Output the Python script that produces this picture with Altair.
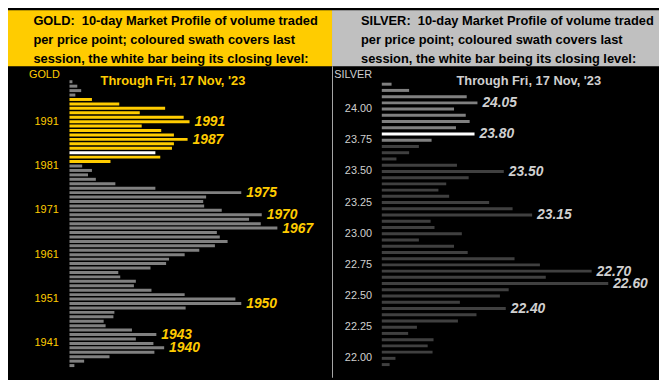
import altair as alt
import pandas as pd

# ---------------- data ----------------
gold_prices = [2000, 1999, 1998, 1997, 1996, 1995, 1994, 1993, 1992, 1991,
               1990, 1989, 1988, 1987, 1986, 1985, 1984, 1983, 1982, 1981,
               1980, 1979, 1978, 1977, 1976, 1975, 1974, 1973, 1972, 1971,
               1970, 1969, 1968, 1967, 1966, 1965, 1964, 1963, 1962, 1961,
               1960, 1959, 1958, 1957, 1956, 1955, 1954, 1953, 1952, 1951,
               1950, 1949, 1948, 1947, 1946, 1945, 1944, 1943, 1942, 1941,
               1940, 1939, 1938, 1937, 1936]
gold_volume = [3, 8, 12, 6, 23, 51, 98, 72, 117, 123,
               74, 94, 107, 121, 107, 105, 88, 93, 42, 13,
               23, 19, 27, 47, 88, 176, 140, 137, 138, 156,
               197, 184, 196, 213, 151, 154, 162, 149, 133, 118,
               102, 99, 83, 50, 52, 68, 66, 84, 118, 170,
               176, 119, 46, 45, 35, 37, 64, 89, 68, 86,
               97, 87, 41, 15, 5]
gold_session = [1982, 1996]
gold_close = 1984
gold_ticks = [1991, 1981, 1971, 1961, 1951, 1941]
gold_peaks = [1991, 1987, 1975, 1970, 1967, 1950, 1943, 1940]
gold_title = ["GOLD:\u00a0 10-day Market Profile of volume traded",
              "per price point; coloured swath covers last",
              "session, the white bar being its closing level:"]

silver_prices = [24.20, 24.15, 24.10, 24.05, 24.00, 23.95, 23.90, 23.85, 23.80, 23.75,
                 23.70, 23.65, 23.60, 23.55, 23.50, 23.45, 23.40, 23.35, 23.30, 23.25,
                 23.20, 23.15, 23.10, 23.05, 23.00, 22.95, 22.90, 22.85, 22.80, 22.75,
                 22.70, 22.65, 22.60, 22.55, 22.50, 22.45, 22.40, 22.35, 22.30, 22.25,
                 22.20, 22.15, 22.10, 22.05, 22.00, 21.95]
silver_volume = [10, 28, 87, 98, 74, 86, 90, 76, 95, 51,
                 38, 28, 15, 77, 125, 89, 66, 58, 69, 110,
                 134, 154, 50, 54, 82, 38, 74, 88, 136, 162,
                 215, 168, 232, 130, 121, 80, 127, 97, 78, 36,
                 27, 53, 47, 52, 14, 8]
silver_session = [23.75, 24.20]
silver_close = 23.80
silver_ticks = [24.00, 23.75, 23.50, 23.25, 23.00, 22.75, 22.50, 22.25, 22.00]
silver_peaks = [24.05, 23.80, 23.50, 23.15, 22.70, 22.60, 22.40]
silver_title = ["SILVER:\u00a0 10-day Market Profile of volume traded",
                "per price point; coloured swath covers last",
                "session, the white bar being its closing level:"]

date_text = "Through Fri, 17 Nov, '23"

# ---------------- layout helpers ----------------
SX = 659 / 667
SY = 372 / 380
H = 372
FONT = "Liberation Sans"


def px(v):
    return v * SX


def py(v):
    return v * SY


def panel(prices, volumes, session, close, ticks, peaks, title_lines, name,
          width, header_bg, prior_col, session_col, text_col, label_col,
          ydom, xdom, tick_fmt, tick_right, name_right, title_x, date_x,
          separator):
    tag = name.lower()
    kinds = []
    for p in prices:
        if abs(p - close) < 1e-9:
            kinds.append(tag + "_close")
        elif session[0] - 1e-9 <= p <= session[1] + 1e-9:
            kinds.append(tag + "_session")
        else:
            kinds.append(tag + "_prior")
    df = pd.DataFrame({"price": prices, "volume": volumes, "kind": kinds})
    df["label"] = [format(p, tick_fmt) for p in prices]
    peaks_df = df[[any(abs(p - q) < 1e-9 for q in peaks) for p in prices]]
    ticks_df = pd.DataFrame({"price": ticks,
                             "label": [format(t, tick_fmt) for t in ticks]})

    yscale = alt.Scale(domain=ydom, nice=False, zero=False)
    xscale = alt.Scale(domain=xdom, nice=False, zero=False)
    one = pd.DataFrame({"k": [0]})

    header = alt.Chart(one).mark_rect(color=header_bg).encode(
        x=alt.value(0), x2=alt.value(width),
        y=alt.value(0), y2=alt.value(py(58)))
    title = alt.Chart(one).mark_text(
        align="left", baseline="alphabetic", font=FONT, fontSize=13,
        fontWeight="bold", color="#000000", lineHeight=py(19.7)).encode(
        x=alt.value(px(title_x)), y=alt.value(py(15)),
        text=alt.value(title_lines))
    corner = alt.Chart(one).mark_text(
        align="right", baseline="middle", font=FONT, fontSize=11,
        color=text_col).encode(
        x=alt.value(px(name_right)), y=alt.value(py(66.5)),
        text=alt.value(name))
    date = alt.Chart(one).mark_text(
        align="center", baseline="alphabetic", font=FONT, fontSize=13,
        fontWeight="bold", color=text_col).encode(
        x=alt.value(px(date_x)), y=alt.value(py(76.8)),
        text=alt.value(date_text))

    bars = alt.Chart(df).mark_bar(orient="horizontal", size=3).encode(
        x=alt.X("volume:Q", scale=xscale, axis=None),
        y=alt.Y("price:Q", scale=yscale, axis=None),
        color=alt.Color("kind:N", legend=None,
                        scale=alt.Scale(domain=[tag + "_prior", tag + "_session", tag + "_close"],
                                        range=[prior_col, session_col, "#FFFFFF"])))
    notes = alt.Chart(peaks_df).mark_text(
        align="left", baseline="middle", dx=5, dy=0.5, font=FONT, fontSize=14,
        fontWeight="bold", fontStyle="italic", color=label_col).encode(
        x=alt.X("volume:Q", scale=xscale, axis=None),
        y=alt.Y("price:Q", scale=yscale, axis=None),
        text="label:N")
    tick_text = alt.Chart(ticks_df).mark_text(
        align="right", baseline="middle", font=FONT, fontSize=11,
        color=text_col).encode(
        x=alt.value(px(tick_right)),
        y=alt.Y("price:Q", scale=yscale, axis=None),
        text="label:N")

    layers = [header, title, corner, date, bars, notes, tick_text]
    if separator:
        sep = alt.Chart(one).mark_rule(color="#A8A8A8", strokeWidth=1).encode(
            x=alt.value(0.5), y=alt.value(py(58)), y2=alt.value(H))
        layers.append(sep)
    return alt.layer(*layers).properties(width=width, height=H)


gold_chart = panel(
    gold_prices, gold_volume, gold_session, gold_close, gold_ticks, gold_peaks,
    gold_title, "GOLD", width=328, header_bg="#FFCC00", prior_col="#808080",
    session_col="#FFCC00", text_col="#FFCC00", label_col="#FFCC00",
    ydom=[1934.37, 2015.0], xdom=[-63, 269], tick_fmt="d",
    tick_right=52, name_right=53, title_x=26, date_x=169, separator=False)

silver_chart = panel(
    silver_prices, silver_volume, silver_session, silver_close, silver_ticks,
    silver_peaks, silver_title, "SILVER", width=331, header_bg="#C0C0C0",
    prior_col="#404040", session_col="#808080", text_col="#D0D0D0",
    label_col="#D0D0D0", ydom=[21.884, 24.7535], xdom=[-51, 284],
    tick_fmt=".2f", tick_right=41, name_right=41, title_x=29.7, date_x=201.6,
    separator=True)

chart = alt.hconcat(gold_chart, silver_chart, spacing=0).resolve_scale(
    color="independent", x="independent", y="independent").properties(
    padding=0, background="#000000").configure_view(stroke=None, fill="#000000")

chart.save("out.html", embed_options={"renderer": "svg", "actions": False})
